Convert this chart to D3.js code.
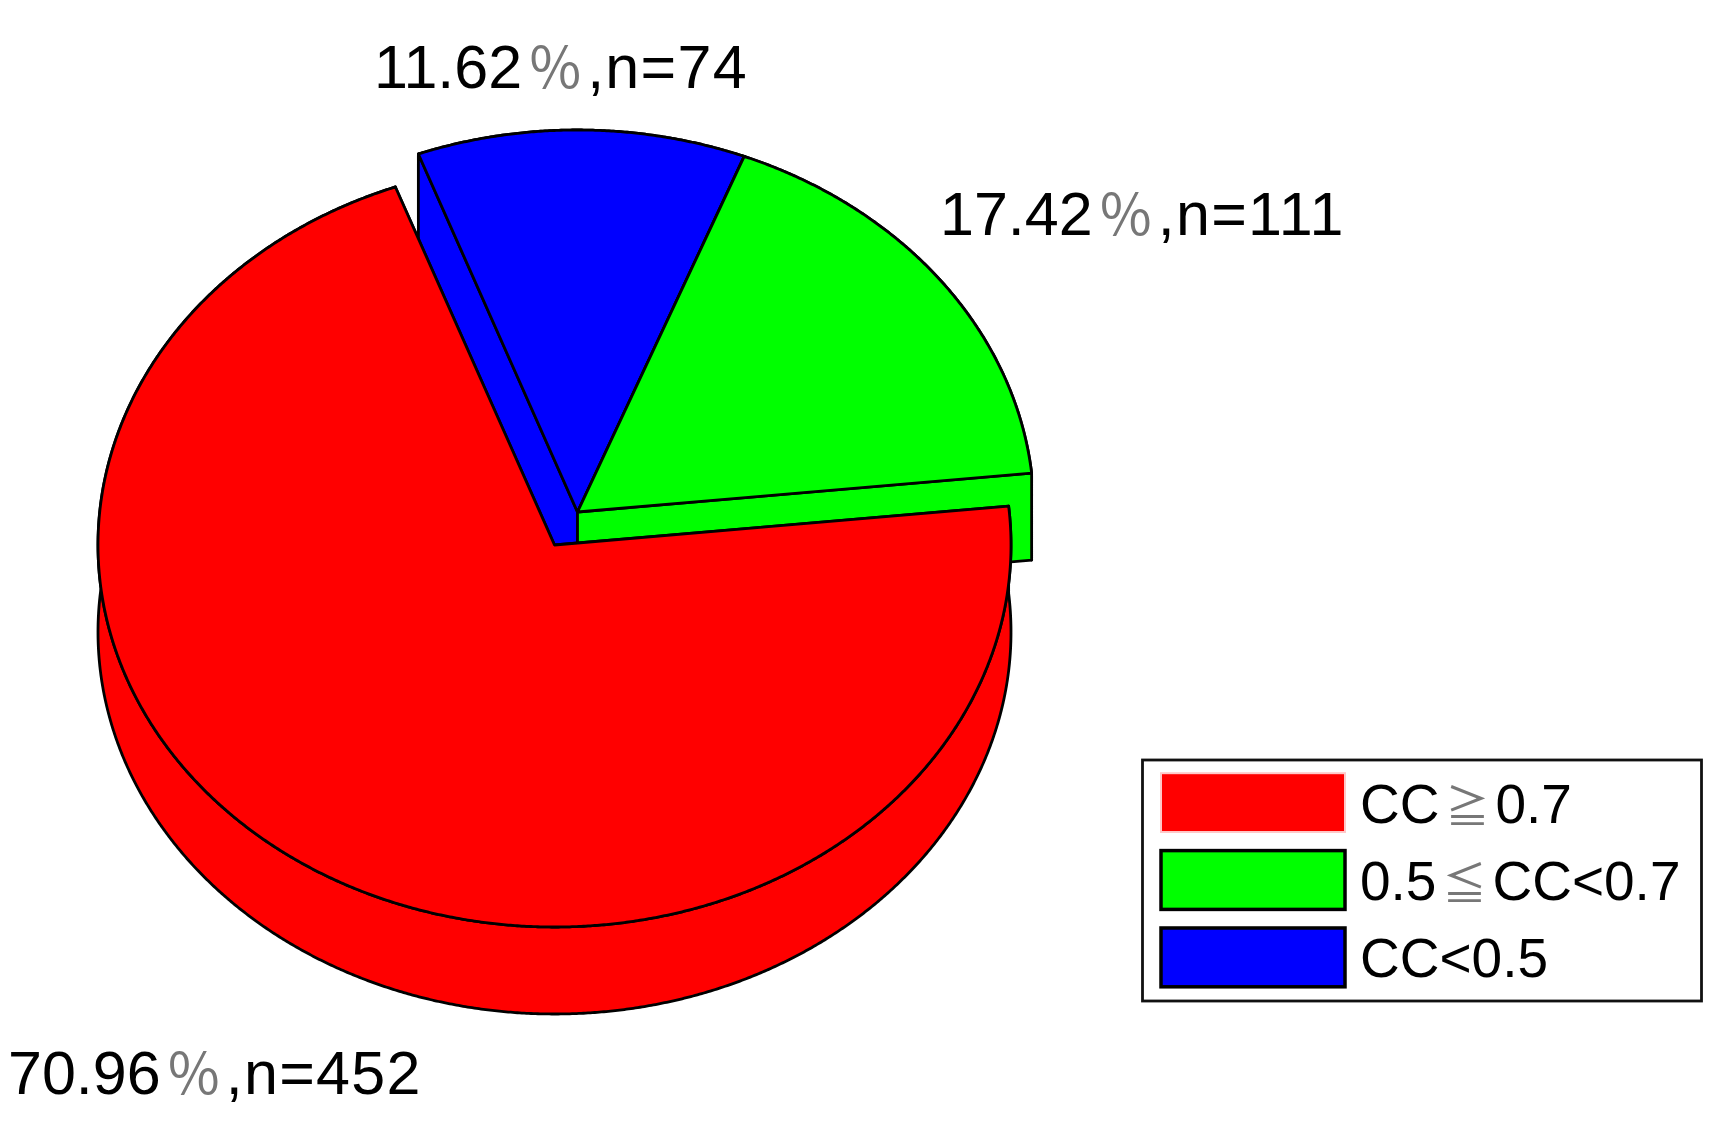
<!DOCTYPE html>
<html>
<head>
<meta charset="utf-8">
<script src="https://cdn.jsdelivr.net/npm/d3@7"></script>
<style>
html, body { margin: 0; padding: 0; background: #fff; }
svg { display: block; filter: blur(0.6px); }
text { font-family: "Liberation Sans", Arial, sans-serif; fill: #000; }
.wide { font-family: "Noto Sans CJK SC", sans-serif; fill: #777; }
</style>
</head>
<body>
<svg></svg>
<script>
const categories = ["CC≧0.7", "0.5≦CC<0.7", "CC<0.5"];
const counts = [452, 111, 74];
const percents = ["70.96", "17.42", "11.62"];
const exploded = [false, true, true];
const colors = ["#ff0000", "#00ff00", "#0000ff"];

const width = 1725, height = 1130;
const svg = d3.select("svg").attr("width", width).attr("height", height);

const cx = 554.5, cy = 545, rx = 456.5, ry = 382, depth = 87;
const explodeX = 23, explodeY = -33;
// legend order is not the drawing order, the pie runs smallest to largest clockwise
const pie = d3.pie()
    .value(i => counts[i])
    .sortValues(d3.ascending)
    .startAngle(-20.4 * Math.PI / 180)
    .endAngle((360 - 20.4) * Math.PI / 180);
const slices = pie(d3.range(counts.length)).sort((a, b) => a.index - b.index);

const line = d3.line();
function arcPoints(s, dx, dy) {
    const n = Math.ceil((s.endAngle - s.startAngle) / 0.005);
    return d3.range(n + 1).map(k => {
        const a = s.startAngle + (s.endAngle - s.startAngle) * k / n;
        return [cx + dx + rx * Math.sin(a), cy + dy - ry * Math.cos(a)];
    });
}

const body = svg.append("g")
    .attr("stroke", "#000")
    .attr("stroke-width", 2.8)
    .attr("stroke-linejoin", "round");

slices.forEach(s => {
    const i = s.data;
    const dx = exploded[i] ? explodeX : 0;
    const dy = exploded[i] ? explodeY : 0;
    const top = arcPoints(s, dx, dy);
    const bottom = arcPoints(s, dx, dy + depth);
    const apex = [cx + dx, cy + dy];
    const apexLow = [cx + dx, cy + dy + depth];
    // outer wall first so the radial walls hide its lower edge
    const walls = [
        top.concat(bottom.slice().reverse()),
        [apex, top[0], bottom[0], apexLow],
        [apex, top[top.length - 1], bottom[bottom.length - 1], apexLow]
    ];
    walls.forEach(w => {
        body.append("path").attr("d", line(w) + "Z").attr("fill", colors[i]);
    });
    body.append("path").attr("d", line([apex].concat(top)) + "Z").attr("fill", colors[i]);
});

// labels around the pie
const labelX = [8, 940, 374];
const labelY = [1094, 235, 88];
percents.forEach((p, i) => {
    const t = svg.append("text")
        .attr("x", labelX[i])
        .attr("y", labelY[i])
        .attr("font-size", 61);
    t.append("tspan").text(p);
    t.append("tspan").attr("class", "wide").attr("dx", 5).attr("font-size", 56).text("％");
    t.append("tspan").attr("dx", 4).attr("letter-spacing", 1.3).text(",n=" + counts[i]);
});

// legend
const legend = svg.append("g");
legend.append("rect")
    .attr("x", 1142.5).attr("y", 760)
    .attr("width", 559).attr("height", 241)
    .attr("fill", "#fff")
    .attr("stroke", "#111")
    .attr("stroke-width", 2.8);
const legendY = d3.scaleBand()
    .domain(d3.range(categories.length))
    .range([767, 993])
    .paddingInner(0.24)
    .paddingOuter(0.08);
categories.forEach((c, i) => {
    legend.append("rect")
        .attr("x", 1161)
        .attr("y", legendY(i))
        .attr("width", 184)
        .attr("height", legendY.bandwidth())
        .attr("fill", colors[i])
        .attr("stroke", i === 0 ? "#ffc8c8" : "#000")
        .attr("stroke-width", i === 0 ? 2 : 3.5);
    const t = legend.append("text")
        .attr("x", 1360)
        .attr("y", legendY(i) + legendY.bandwidth() / 2 + 20)
        .attr("font-size", 55);
    let gap = 0;
    c.split(/(≧|≦)/).forEach(part => {
        const span = t.append("tspan").text(part);
        if (gap) span.attr("dx", gap);
        gap = 0;
        if (part === "≧" || part === "≦") {
            span.attr("class", "wide").attr("font-size", 44).attr("dx", 6);
            gap = 6;
        }
    });
});
</script>
</body>
</html>
